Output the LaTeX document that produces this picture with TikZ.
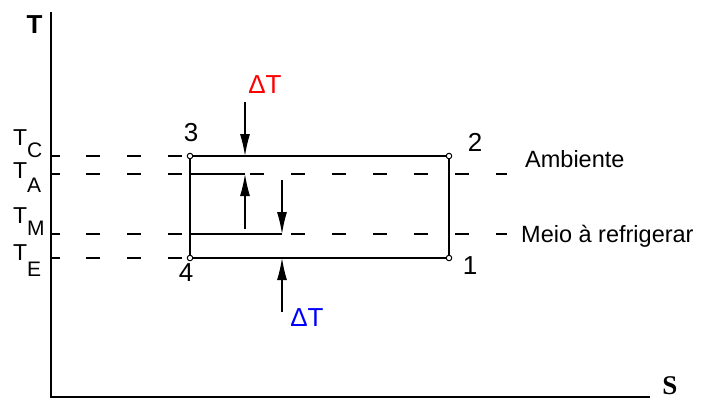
\documentclass[tikz,border=0pt]{standalone}
\usepackage{fontspec}
\setmainfont{Liberation Sans}
\newfontfamily\serifbold{Liberation Serif}
\usetikzlibrary{arrows.meta}
\begin{document}
\begin{tikzpicture}[x=1pt,y=-1pt,
  ln/.style={line width=1.3pt,black},
  dsh/.style={line width=1.3pt,black,dash pattern=on 14pt off 27pt,dash phase=6pt},
  pt/.style={circle,draw,fill=white,line width=1pt,inner sep=0pt,minimum size=5.5pt},
  arr/.style={line width=1.3pt,-{Latex[length=22pt,width=10pt]}},
  lbl/.style={font=\fontsize{23}{23}\selectfont,inner sep=0pt},
  num/.style={font=\fontsize{26}{26}\selectfont,inner sep=0pt},
  txt/.style={font=\fontsize{23.5}{23.5}\selectfont,inner sep=0pt,anchor=base west}]
\useasboundingbox (0,0) rectangle (702,400);
% axes
\coordinate (top) at (51,12);
\coordinate (org) at (51,397);
\coordinate (right) at (650,397);
\draw[ln,line width=1.6pt] (top) -- (org) -- (right);
\node[font=\bfseries\fontsize{26}{26}\selectfont,inner sep=0pt] (lT) at (34.5,25) {T};
\node[font=\serifbold\bfseries\fontsize{27}{27}\selectfont,inner sep=0pt] (lS) at (670,386) {S};
% level coordinates
\coordinate (c0) at (51,156); \coordinate (c1) at (190,156);
\coordinate (e0) at (51,258); \coordinate (e1) at (190,258);
\coordinate (a0) at (51,174); \coordinate (a1) at (507,174);
\coordinate (m0) at (51,234); \coordinate (m1) at (507,234);
% ticks
\draw[ln] (c0) -- ++(9,0);
\draw[ln] (e0) -- ++(9,0);
\draw[ln] (a0) -- ++(9,0);
\draw[ln] (m0) -- ++(9,0);
% dashed levels
\draw[dsh] (c0) -- (c1);
\draw[dsh] (e0) -- (e1);
\draw[dsh] (a0) -- (a1);
\draw[dsh] (m0) -- (m1);
% inner solid lines
\coordinate (ia) at (245,174);
\coordinate (im) at (282,234);
\draw[ln] (190,174) -- (ia);
\draw[ln] (190,234) -- (im);
% cycle rectangle
\coordinate (q3) at (190,156);
\coordinate (q2) at (449,156);
\coordinate (q1) at (449,258);
\coordinate (q4) at (190,258);
\draw[ln] (q3) -- (q2) -- (q1) -- (q4) -- cycle;
\node[pt] (p3) at (q3) {};
\node[pt] (p2) at (q2) {};
\node[pt] (p1) at (q1) {};
\node[pt] (p4) at (q4) {};
% arrows
\coordinate (r0) at (245,102);
\coordinate (r1) at (245,156);
\draw[arr] (r0) -- (r1);
\coordinate (u0) at (245,229);
\draw[arr] (u0) -- (ia);
\coordinate (d0) at (282,180);
\draw[arr] (d0) -- (im);
\coordinate (b0) at (282,312);
\coordinate (b1) at (282,258);
\draw[arr] (b0) -- (b1);
\node[num,red] (dTr) at (265,85) {ΔT};
\node[num,blue] (dTb) at (307,318) {ΔT};
% numbers
\node[num] (n3) at (191,133) {3};
\node[num] (n2) at (475,142) {2};
\node[num] (n4) at (186,273) {4};
\node[num] (n1) at (470,266) {1};
% level labels
\node[lbl,anchor=base west] (tc) at (13,145) {T\raisebox{-12pt}{\fontsize{21}{21}\selectfont C}};
\node[lbl,anchor=base west] (ta) at (13,178) {T\raisebox{-14pt}{\fontsize{21}{21}\selectfont A}};
\node[lbl,anchor=base west] (tm) at (13,223) {T\raisebox{-12pt}{\fontsize{21}{21}\selectfont M}};
\node[lbl,anchor=base west] (te) at (13,260) {T\raisebox{-16pt}{\fontsize{21}{21}\selectfont E}};
% side texts
\node[txt] (amb) at (525,167) {Ambiente};
\node[txt] (meio) at (521,242) {Meio à refrigerar};
\end{tikzpicture}
\end{document}
